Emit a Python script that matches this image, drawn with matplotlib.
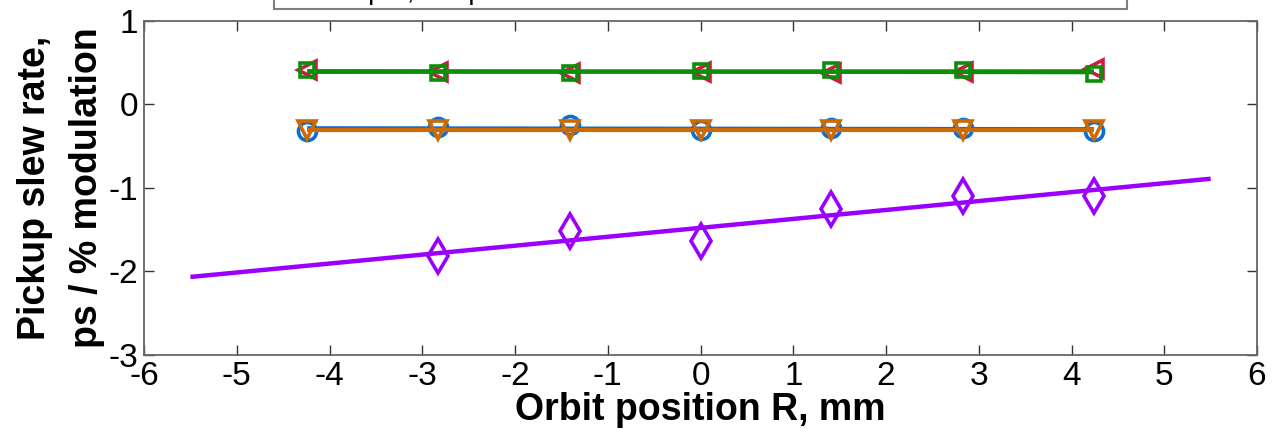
import numpy as np
import matplotlib.pyplot as plt
from matplotlib.patches import Rectangle

plt.rcParams['font.family'] = ['Liberation Sans', 'DejaVu Sans']
plt.rcParams['axes.unicode_minus'] = False

# orbit offsets (mm) for the scan
x_pos = [-4.24, -2.83, -1.41, 0.0, 1.41, 2.83, 4.24]
x_diag = [-2.83, -1.41, 0.0, 1.41, 2.83, 4.24]

# slew rates, ps / % modulation
slew_blue = [-0.32, -0.27, -0.25, -0.31, -0.28, -0.28, -0.32]
slew_orange = [-0.30, -0.30, -0.30, -0.31, -0.30, -0.30, -0.30]
slew_red = [0.41, 0.39, 0.38, 0.39, 0.38, 0.39, 0.42]
slew_green = [0.41, 0.38, 0.38, 0.40, 0.41, 0.41, 0.36]
slew_purple = [-1.82, -1.52, -1.63, -1.25, -1.10, -1.09]

fit_span_diag = [-5.5, 5.5]
legend_text = "Loop 1, Loop 2"

fig = plt.figure(figsize=(12.78, 4.40), dpi=100)
ax = fig.add_axes([0.1127, 0.1932, 0.8709, 0.7591])

def plot_with_fit(xs, ys, color, marker, ms, lw, span=None):
    xs = np.asarray(xs)
    ys = np.asarray(ys)
    p = np.polyfit(xs, ys, 1)
    xf = np.array(span) if span is not None else np.array([xs.min(), xs.max()])
    ax.plot(xf, np.polyval(p, xf), color=color, lw=lw, solid_capstyle='butt')
    ax.plot(xs, ys, linestyle='none', marker=marker, ms=ms, mfc='none',
            mec=color, mew=2.6)

plot_with_fit(x_pos, slew_blue, '#0a6fd0', 'o', 13, 3.0)
plot_with_fit(x_pos, slew_orange, '#cc6a05', 'v', 13, 3.0)
plot_with_fit(x_pos, slew_red, '#d01c3c', '<', 13, 3.0)
plot_with_fit(x_pos, slew_green, '#0a8f0a', 's', 10.5, 3.0)
plot_with_fit(x_diag, slew_purple, '#9b00ff', 'd', 17, 3.2, span=fit_span_diag)

ax.set_xlim(-6, 6)
ax.set_ylim(-3, 1)
ax.set_xticks(np.arange(-6, 7, 1))
ax.set_yticks(np.arange(-3, 2, 1))
ax.tick_params(direction='in', length=7, width=1, top=True, right=True,
               labelsize=24, colors='#333333', labelcolor='black', pad=4)
for s in ax.spines.values():
    s.set_color('#666666')
    s.set_linewidth(1.3)

ax.set_xlabel('Orbit position R, mm', fontsize=27, fontweight='bold', labelpad=0)
ax.set_ylabel('Pickup slew rate,\nps / % modulation', fontsize=27,
              fontweight='bold', labelpad=3, linespacing=1.55)

# legend box sitting above the plot, mostly outside the figure
fig.patches.append(Rectangle((274 / 1278, 1 - 9 / 440), (1127 - 274) / 1278, 0.2,
                             transform=fig.transFigure, facecolor='white',
                             edgecolor='#7f7f7f', lw=1.5, zorder=5))
fig.text(322 / 1278, 1 + 1 / 440, legend_text, fontsize=20, va='baseline',
         ha='left', zorder=6)

fig.savefig('out.png', dpi=100)
